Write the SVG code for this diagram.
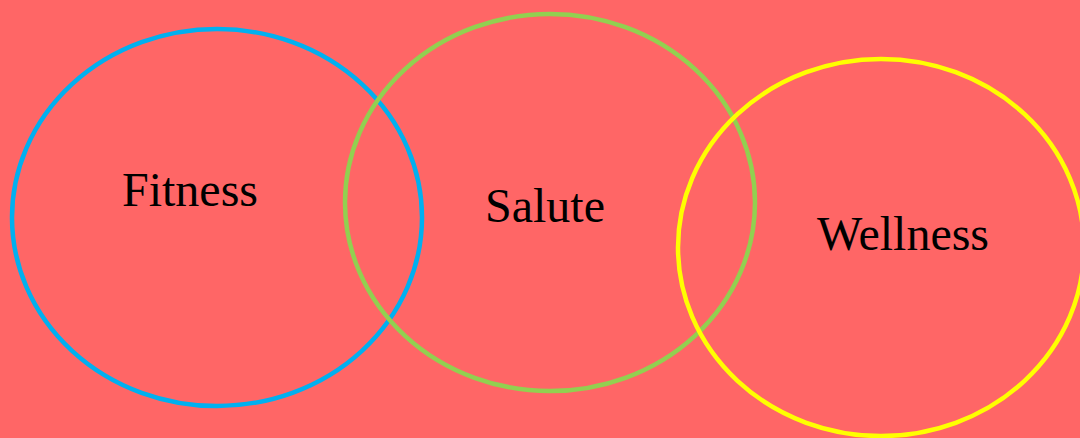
<svg xmlns="http://www.w3.org/2000/svg" width="1080" height="438" viewBox="0 0 1080 438">
<style>
.c{fill:none;stroke-width:4.5}
.t{font-family:"Liberation Serif","Times New Roman",serif;font-size:48px;fill:#000;text-anchor:middle}
</style>
<rect width="1080" height="438" fill="#ff6666"/>
<g id="fitness"><ellipse class="c" cx="217" cy="217.5" rx="205" ry="188.5" stroke="#00b0f0"/><text class="t" x="190" y="206">Fitness</text></g>
<g id="salute"><ellipse class="c" cx="550" cy="202.5" rx="205" ry="188.5" stroke="#92d050"/><text class="t" x="545" y="222">Salute</text></g>
<g id="wellness"><ellipse class="c" cx="881" cy="247.5" rx="203" ry="188.5" stroke="#ffff00"/><text class="t" x="903" y="250">Wellness</text></g>
<g id="connectors"/>
</svg>
